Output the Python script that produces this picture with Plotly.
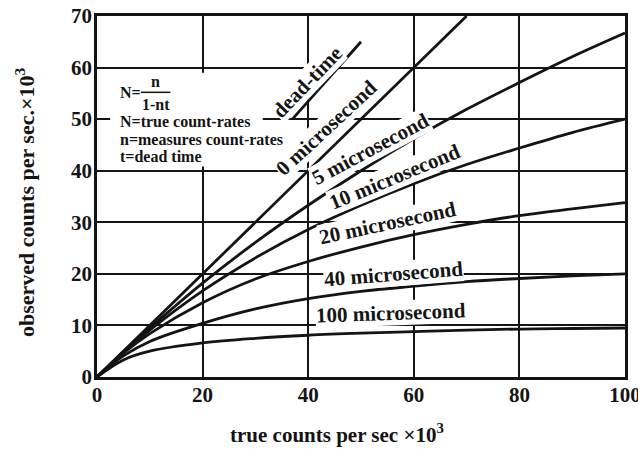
import plotly.graph_objects as go

# ---- data ----
true_rate = [0, 5, 10, 20, 30, 40, 50, 60, 70, 80, 90, 100]
obs_5us = [0, 4.9, 9.5, 18.2, 26.1, 33.3, 40.0, 46.2, 51.9, 57.1, 62.1, 66.7]
obs_10us = [0, 4.8, 9.1, 16.7, 23.1, 28.6, 33.3, 37.5, 41.2, 44.4, 47.4, 50.0]
obs_20us = [0, 4.6, 8.4, 14.4, 19.0, 22.4, 25.2, 27.6, 29.6, 31.3, 32.6, 33.8]
obs_40us = [0, 4.1, 6.9, 10.4, 13.2, 15.2, 16.6, 17.6, 18.5, 19.1, 19.6, 20.0]
obs_100us = [0, 3.3, 5.0, 6.6, 7.5, 8.1, 8.5, 8.8, 9.1, 9.3, 9.4, 9.5]
zero_x = [0, 70]
zero_y = [0, 70]
dead_x = [37, 50]
dead_y = [50, 65]

x_ticks = [0, 20, 40, 60, 80, 100]
y_ticks = [0, 10, 20, 30, 40, 50, 60, 70]

FONT = "Liberation Serif"
INK = "#141414"

fig = go.Figure()
line = dict(color=INK, width=2.8)
fig.add_trace(go.Scatter(x=zero_x, y=zero_y, mode="lines", line=line))
for ys in [obs_5us, obs_10us, obs_20us, obs_40us, obs_100us]:
    fig.add_trace(go.Scatter(x=true_rate, y=ys, mode="lines",
                             line=dict(color=INK, width=2.8, shape="spline", smoothing=1.0)))
fig.add_trace(go.Scatter(x=dead_x, y=dead_y, mode="lines", line=line))

# white box behind formula text
fig.add_shape(type="rect", x0=2.5, x1=31.4, y0=40.8, y1=59.0, xref="x", yref="y",
              fillcolor="white", line=dict(width=0), layer="between")
# fraction bar
fig.add_shape(type="line", x0=8.3, x1=13.9, y0=55.2, y1=55.2, xref="x", yref="y",
              line=dict(color=INK, width=1.5), layer="above")

bf = dict(family=FONT, size=16, color=INK, weight="bold")
fig.add_annotation(x=4.0, y=55.2, text="N=", showarrow=False, xanchor="left", yanchor="middle", font=bf)
fig.add_annotation(x=11.1, y=57.3, text="n", showarrow=False, xanchor="center", yanchor="middle", font=bf)
fig.add_annotation(x=11.1, y=52.9, text="1-nt", showarrow=False, xanchor="center", yanchor="middle", font=bf)
for yy, t in [(49.5, "N=true count-rates"), (46.0, "n=measures count-rates"), (42.7, "t=dead time")]:
    fig.add_annotation(x=4.0, y=yy, text=t, showarrow=False, xanchor="left", yanchor="middle", font=bf)

lf = dict(family=FONT, size=21, color=INK, weight="bold")
labels = [
    (39.8, 57.3, -46, "dead-time"),
    (43.4, 48.3, -43, "0 microsecond"),
    (51.8, 44.2, -28, "5 microsecond"),
    (56.3, 38.8, -22.5, "10 microsecond"),
    (55.1, 29.8, -12, "20 microsecond"),
    (56.1, 20.0, -4.5, "40 microsecond"),
    (55.7, 12.4, -2, "100 microsecond"),
]
for lx, ly, ang, t in labels:
    fig.add_annotation(x=lx, y=ly, text=t, textangle=ang, showarrow=False,
                       xanchor="center", yanchor="middle", font=lf,
                       bgcolor="white", borderpad=0)

tf = dict(family=FONT, size=21, color=INK, weight="bold")
fig.add_annotation(xref="paper", yref="paper", x=(337 - 97) / 528, y=(377 - 433) / 361,
                   text="true counts per sec ×10<sup>3</sup>", showarrow=False,
                   xanchor="center", yanchor="middle", font=tf)
fig.add_annotation(xref="paper", yref="paper", x=(25 - 97) / 528, y=(377 - 203) / 361,
                   text="observed counts per sec.×10<sup>3</sup>", showarrow=False, textangle=-90,
                   xanchor="center", yanchor="middle", font=dict(tf, size=22))

axis_common = dict(showgrid=True, gridcolor=INK, gridwidth=2, zeroline=False,
                   showline=True, linecolor=INK, linewidth=2.5, mirror=True,
                   automargin=False, ticks="", ticklabeloverflow="allow",
                   tickfont=dict(family=FONT, size=21, color=INK, weight="bold"))
fig.update_xaxes(range=[0, 100], tickvals=x_ticks, ticktext=[str(v) for v in x_ticks],
                 ticklabelstandoff=-3, **axis_common)
fig.update_yaxes(range=[0, 70], tickvals=y_ticks, ticktext=[str(v) for v in y_ticks],
                 ticklabelstandoff=-2, **axis_common)

fig.update_layout(width=638, height=449, margin=dict(l=97, r=13, t=16, b=72),
                  paper_bgcolor="white", plot_bgcolor="white", showlegend=False)

fig.write_html("out.html")
